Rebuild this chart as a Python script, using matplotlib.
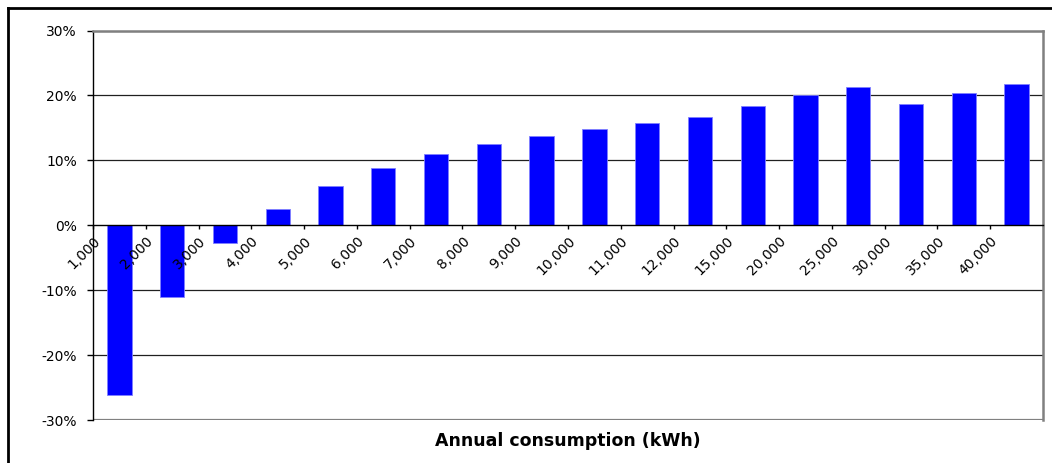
import numpy as np
import matplotlib
matplotlib.use("Agg")
import matplotlib.pyplot as plt
from matplotlib.lines import Line2D

plt.rcParams['font.family'] = ['DejaVu Sans']

# annual consumption categories (kWh) and the % difference per category
consumption = ["1,000", "2,000", "3,000", "4,000", "5,000", "6,000", "7,000",
               "8,000", "9,000", "10,000", "11,000", "12,000", "15,000",
               "20,000", "25,000", "30,000", "35,000", "40,000"]
difference = [-26.2, -11.1, -2.8, 2.5, 6.0, 8.8, 10.9, 12.5, 13.8, 14.9,
              15.7, 16.6, 18.3, 20.1, 21.3, 18.7, 20.4, 21.8]
yticks = [-30, -20, -10, 0, 10, 20, 30]

W, H = 1052, 463
fig = plt.figure(figsize=(W / 100, H / 100), dpi=100)

# outer frame (only top and left edges fall inside the image)
fig.add_artist(Line2D([8 / W, 8 / W], [0, 1 - 8 / H], transform=fig.transFigure,
                      color='black', lw=2))
fig.add_artist(Line2D([8 / W, 1], [1 - 8 / H, 1 - 8 / H], transform=fig.transFigure,
                      color='black', lw=2))

ax = fig.add_axes([93 / W, 1 - 420 / H, (1043 - 93) / W, (420 - 30.5) / H])

n = len(consumption)
x = np.arange(n) + 0.5
ax.bar(x, difference, width=0.46, color='#0000ff', edgecolor='#8080ff', linewidth=0.6,
       zorder=3)

ax.set_xlim(0, n)
ax.set_ylim(-30, 30)

# gridlines
for v in yticks:
    if v in (-30, 30):
        ax.axhline(v, color='#808080', lw=1.6, zorder=1)
    elif v != 0:
        ax.axhline(v, color='#202020', lw=0.9, zorder=1)

for s in ['top', 'right']:
    ax.spines[s].set_color('#808080')
    ax.spines[s].set_linewidth(1.8)
ax.spines['left'].set_color('black')
ax.spines['left'].set_linewidth(1.0)
ax.spines['bottom'].set_position(('data', 0))
ax.spines['bottom'].set_color('black')
ax.spines['bottom'].set_linewidth(1.0)
ax.spines['bottom'].set_zorder(4)

ax.set_yticks(yticks)
ax.set_yticklabels([f"{v}%" for v in yticks], fontsize=10)
ax.tick_params(axis='y', direction='out', length=4.5, width=1, pad=7)

ax.set_xticks(np.arange(n))
ax.set_xticklabels(consumption, rotation=45, ha='right', va='top',
                   rotation_mode='anchor', fontsize=10)
ax.tick_params(axis='x', direction='out', length=3, width=1, pad=3)
ax.xaxis.set_zorder(5)  # labels sit on top of the negative bars

fig.text(568 / W, 1 - 441 / H, "Annual consumption (kWh)", ha='center', va='center',
         fontsize=12.5, fontweight='bold')

fig.savefig("out.png", dpi=100)
